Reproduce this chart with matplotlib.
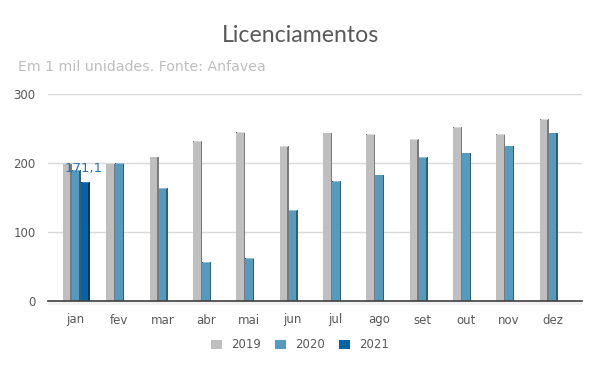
import numpy as np
import matplotlib
matplotlib.use("Agg")
import matplotlib.pyplot as plt
from matplotlib.patches import Rectangle

months = ["jan", "fev", "mar", "abr", "mai", "jun", "jul", "ago", "set", "out", "nov", "dez"]
v2019 = [198, 198, 208, 231, 244, 223, 243, 241, 234, 251, 241, 262]
v2020 = [189, 199, 163, 55, 61, 131, 173, 182, 207, 214, 224, 243]
v2021 = [171.1]
series = ["2019", "2020", "2021"]
yticks = [0, 100, 200, 300]

front = ["#bfbfbf", "#559bc0", "#0563a8"]
side = ["#7a7a7a", "#335f75", "#023a66"]
topc = ["#d9d9d9", "#8dbdd6", "#3f86c4"]

fig = plt.figure(figsize=(6, 3.71), dpi=100)
ax = fig.add_axes([48/600, 1-301/371, 534/600, 207/371])

x = np.arange(len(months))
slot = 0.2076
fw = 0.173
sw = 0.034
offs = [-slot, 0, slot]
handles = []
for vals, off, fc, sc, tc, name in zip([v2019, v2020, v2021], offs, front, side, topc, series):
    xs = x[:len(vals)] + off
    vals = np.array(vals)
    ax.bar(xs + sw/2, vals + 1.2, width=fw + sw, color=sc, zorder=2.9, linewidth=0)
    h = ax.bar(xs, vals, width=fw, color=fc, zorder=3, linewidth=0, label=name)
    ax.bar(xs + sw/2, 1.2, bottom=vals, width=fw, color=tc, zorder=3.1, linewidth=0)
    handles.append(h)

ax.annotate("171,1", xy=(x[0] + offs[2], v2021[0]), xytext=(-1, 6), textcoords="offset points",
            ha="center", va="bottom", color="#2a72b5", fontsize=9.5, zorder=5)

ax.set_xlim(-0.64, 11.68)
ax.set_ylim(0, 300)
ax.set_yticks(yticks)
ax.set_yticklabels([str(t) for t in yticks])
ax.set_xticks(x)
ax.set_xticklabels(months)
ax.tick_params(axis="both", length=0, colors="#595959", labelsize=8.5)
ax.tick_params(axis="x", pad=9)
ax.tick_params(axis="y", pad=9)
ax.yaxis.grid(True, color="#d9d9d9", linewidth=1)
ax.set_axisbelow(True)
for s in ["top", "right", "left"]:
    ax.spines[s].set_visible(False)
ax.spines["bottom"].set_color("#404040")
ax.spines["bottom"].set_linewidth(1.2)
ax.spines["bottom"].set_zorder(4)
ax.add_patch(Rectangle((0, -0.02), 1, 0.018, transform=ax.transAxes, color="#f2f2f2",
                       clip_on=False, zorder=1, linewidth=0))

fig.text(0.5, 1-35/371, "Licenciamentos", ha="center", va="center", fontsize=16.7,
         color="#595959", family="Lato")
fig.text(18/600, 1-67/371, "Em 1 mil unidades. Fonte: Anfavea", ha="left", va="center",
         fontsize=10.2, color="#bfbfbf")

leg = fig.legend(handles=handles, labels=series, loc="center", bbox_to_anchor=(0.5, 1-345/371),
                 ncol=3, frameon=False, fontsize=8.5, handlelength=0.9, handleheight=0.9,
                 columnspacing=1.2, handletextpad=0.8)
for t in leg.get_texts():
    t.set_color("#595959")

fig.savefig("out.png", dpi=100)
